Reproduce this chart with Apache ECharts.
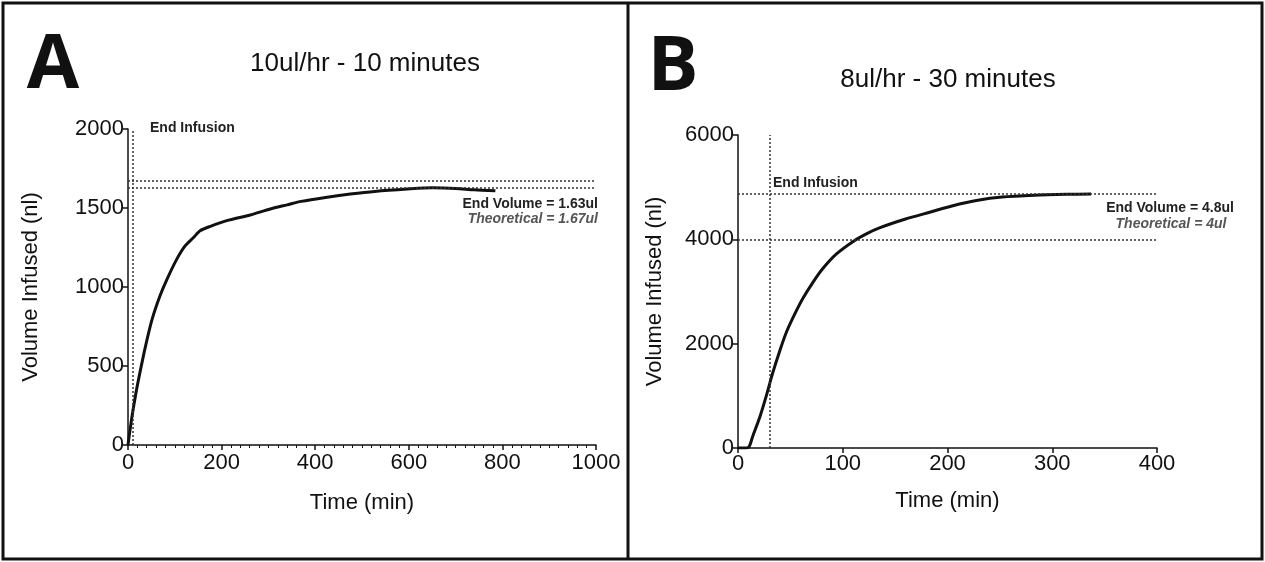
<!DOCTYPE html>
<html>
<head>
<meta charset="utf-8">
<script src="https://cdn.jsdelivr.net/npm/echarts@6/dist/echarts.min.js"></script>
<style>
  html, body { margin: 0; padding: 0; background: #fff; }
  #chart { width: 1265px; height: 562px; }
</style>
</head>
<body>
<div id="chart"></div>
<script>
// panel A: 10ul/hr for 10 minutes
const timeA = [0, 8, 17, 27, 37, 51, 68, 83, 104, 122, 140, 154, 176, 211, 261, 304, 340, 370, 422, 475, 527, 597, 650, 700, 740, 785];
const volumeA = [0, 170, 330, 480, 620, 790, 941, 1047, 1175, 1260, 1313, 1356, 1384, 1420, 1456, 1494, 1520, 1542, 1567, 1588, 1605, 1620, 1628, 1624, 1615, 1609];
const endInfusionA = 10;
const endVolumeA = 1630;
const theoreticalA = 1670;

// panel B: 8ul/hr for 30 minutes
const timeB = [0, 5, 10, 14, 21, 27, 33, 40, 46, 54, 62, 72, 81, 94, 110, 123, 135, 160, 183, 206, 229, 252, 283, 314, 337];
const volumeB = [0, 0, 10, 222, 605, 1000, 1430, 1870, 2210, 2560, 2870, 3190, 3440, 3720, 3960, 4110, 4220, 4390, 4520, 4650, 4750, 4810, 4845, 4862, 4868];
const endInfusionB = 30;
const endVolumeB = 4880;
const theoreticalB = 4000;

const font = '"Liberation Sans", Arial, sans-serif';
const dotted = { type: [2, 2], color: '#333', width: 1.5 };

const pairs = (xs, ys) => xs.map((x, i) => [x, ys[i]]);

const axisBase = {
    axisLine: { lineStyle: { color: '#111', width: 1.5 } },
    axisTick: { show: true, inside: false, length: 5, lineStyle: { color: '#111', width: 1.5 } },
    splitLine: { show: false },
    nameLocation: 'middle',
    nameTextStyle: { fontFamily: font, fontSize: 22, color: '#111' },
};

const makeX = (gridIndex, max, interval, gap, minor, margin) => ({
    ...axisBase,
    type: 'value', gridIndex, min: 0, max, interval,
    name: 'Time (min)', nameGap: gap,
    minorTick: { show: minor, splitNumber: 10, length: 3, lineStyle: { color: '#111', width: 1 } },
    axisLabel: { fontFamily: font, fontSize: 22, color: '#111', margin, formatter: v => String(v) },
});

const makeY = (gridIndex, max, interval, gap) => ({
    ...axisBase,
    type: 'value', gridIndex, min: 0, max, interval,
    name: 'Volume Infused (nl)', nameGap: gap,
    axisLabel: { fontFamily: font, fontSize: 22, color: '#111', margin: 4, formatter: v => String(v) },
});

const refLines = (xEnd, yTop, xMax, hLines) => ({
    silent: true,
    symbol: 'none',
    label: { show: false },
    lineStyle: dotted,
    data: [
        [{ coord: [xEnd, 0] }, { coord: [xEnd, yTop] }],
        ...hLines.map(v => [{ coord: [0, v] }, { coord: [xMax, v] }]),
    ],
});

const txt = (x, y, text, size, opts = {}) => ({
    type: 'text', x, y,
    style: {
        text,
        font: `${opts.style || ''} ${opts.weight || 'normal'} ${size}px ${opts.family || font}`,
        fill: opts.fill || '#111',
        textAlign: opts.align || 'left',
        textVerticalAlign: 'middle',
    },
});

const curve = (idx, xs, ys, marks) => ({
    type: 'line', xAxisIndex: idx, yAxisIndex: idx,
    data: pairs(xs, ys),
    showSymbol: false, smooth: 0.25,
    lineStyle: { color: '#111', width: 3 },
    markLine: marks,
});

const chart = echarts.init(document.getElementById('chart'));
chart.setOption({
    animation: false,
    grid: [
        { left: 128, top: 129, width: 468, height: 316 },
        { left: 738, top: 135, width: 419, height: 313 },
    ],
    xAxis: [
        makeX(0, 1000, 200, 47, true, 7),
        makeX(1, 400, 100, 42, false, 5),
    ],
    yAxis: [
        makeY(0, 2000, 500, 86),
        makeY(1, 6000, 2000, 72),
    ],
    series: [
        curve(0, timeA, volumeA, refLines(endInfusionA, 2000, 1000, [endVolumeA, theoreticalA])),
        curve(1, timeB, volumeB, refLines(endInfusionB, 6000, 400, [endVolumeB, theoreticalB])),
    ],
    graphic: [
        // frame
        { type: 'rect', shape: { x: 3, y: 3, width: 1259, height: 556 }, style: { fill: 'none', stroke: '#111', lineWidth: 3 } },
        { type: 'line', shape: { x1: 628, y1: 3, x2: 628, y2: 559 }, style: { stroke: '#111', lineWidth: 3 } },
        // panel letters and titles
        txt(53, 66, 'A', 76, { weight: 'bold', family: '"Open Sans", sans-serif', align: 'center' }),
        txt(673, 68, 'B', 76, { weight: 'bold', family: '"Open Sans", sans-serif', align: 'center' }),
        txt(365, 64, '10ul/hr - 10 minutes', 26, { align: 'center' }),
        txt(948, 80, '8ul/hr - 30 minutes', 26, { align: 'center' }),
        // annotations A
        txt(150, 128, 'End Infusion', 14, { weight: 'bold', fill: '#222' }),
        txt(598, 204, 'End Volume = 1.63ul', 14, { weight: 'bold', fill: '#222', align: 'right' }),
        txt(598, 219, 'Theoretical = 1.67ul', 14, { weight: 'bold', style: 'italic', fill: '#555', align: 'right' }),
        // annotations B
        txt(773, 183, 'End Infusion', 14, { weight: 'bold', fill: '#222' }),
        txt(1170, 208, 'End Volume = 4.8ul', 14, { weight: 'bold', fill: '#222', align: 'center' }),
        txt(1171, 224, 'Theoretical = 4ul', 14, { weight: 'bold', style: 'italic', fill: '#555', align: 'center' }),
    ],
});
</script>
</body>
</html>
